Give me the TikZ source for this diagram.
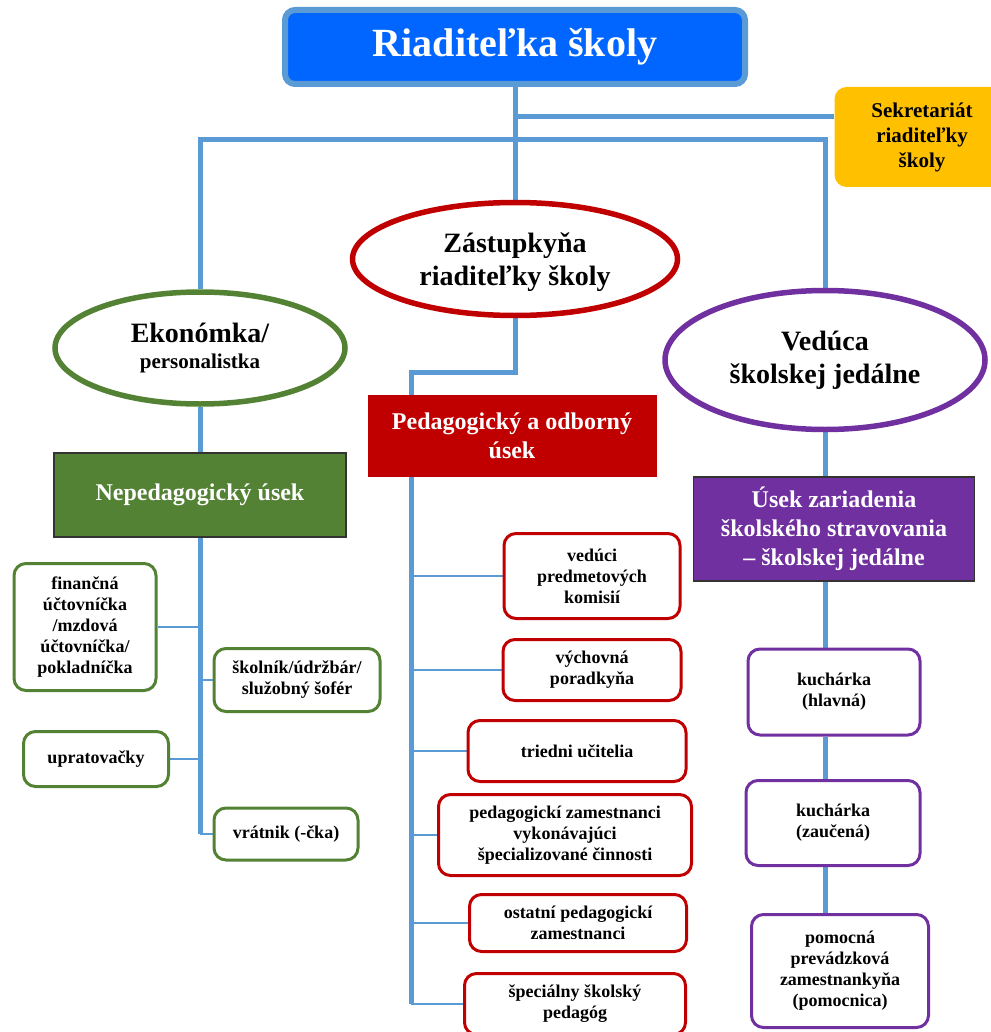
\documentclass[tikz,border=0pt]{standalone}
\usepackage{fontspec}
\setmainfont{Liberation Serif}
\usetikzlibrary{shapes.geometric,backgrounds}
\definecolor{linkblue}{HTML}{5B9BD5}
\definecolor{headblue}{HTML}{0066FF}
\definecolor{secgold}{HTML}{FFC000}
\definecolor{pedred}{HTML}{C00000}
\definecolor{ecogreen}{HTML}{548235}
\definecolor{canteen}{HTML}{7030A0}

\begin{document}
\begin{tikzpicture}[x=1pt, y=-1pt,
            oval/.style={ellipse, draw, line width=5.5pt, fill=white, inner sep=0pt, align=center, font=\bfseries\fontsize{28}{33}\selectfont},
            unit/.style={rectangle, draw=black!80, line width=1.2pt, text=white, align=center, font=\bfseries\fontsize{24}{29}\selectfont},
            job/.style={rectangle, rounded corners=12pt, draw, line width=3pt, fill=white, inner sep=2pt, align=center, font=\bfseries\fontsize{18}{21}\selectfont},
            link/.style={linkblue, line width=5pt},
            twig/.style={linkblue, line width=2pt}
        ]
            \useasboundingbox (0,0) rectangle (990,1032);

            % Riaditelka
            \node[rectangle, rounded corners=10pt, draw=linkblue, line width=6pt, fill=headblue, text=white, minimum width=460pt, minimum height=74pt, font=\bfseries\fontsize{40}{44}\selectfont] (head) at (515,47) {Riaditeľka školy};

            % Sekretariat
            \node[rectangle, rounded corners=12pt, fill=secgold, minimum width=175pt, minimum height=100pt, align=center, font=\bfseries\fontsize{21}{25}\selectfont] (secr) at (922,137) {Sekretariát\\riaditeľky\\školy};

            % Zastupkyna
            \node[oval, draw=pedred, minimum width=325pt, minimum height=113pt, text depth=-4pt] (deputy) at (515,259) {Zástupkyňa\\riaditeľky školy};

            % Ekonomka
            \node[oval, draw=ecogreen, minimum width=290pt, minimum height=112pt] (econ) at (200,348) {Ekonómka/\\[-7pt]{\fontsize{21}{25}\selectfont personalistka}};

            % Veduca jedalne
            \node[oval, draw=canteen, minimum width=320pt, minimum height=139pt] (chef) at (825,360) {Vedúca\\školskej jedálne};

            % Useky
            \node[unit, fill=ecogreen, minimum width=292pt, minimum height=84pt] (nonped) at (200,495) {Nepedagogický úsek};
            \node[unit, draw=none, fill=pedred, minimum width=289pt, minimum height=82pt] (ped) at (512,436) {Pedagogický a odborný\\úsek};
            \node[unit, fill=canteen, minimum width=281pt, minimum height=104pt] (dining) at (834,529) {Úsek zariadenia\\školského stravovania\\– školskej jedálne};

            % Nepedagogicki zamestnanci
            \node[job, draw=ecogreen, minimum width=142pt, minimum height=127pt] (fin) at (85,627) {finančná\\účtovníčka\\/mzdová\\účtovníčka/\\pokladníčka};
            \node[job, draw=ecogreen, minimum width=166pt, minimum height=63pt] (skol) at (297,680) {školník/údržbár/\\služobný šofér};
            \node[job, draw=ecogreen, minimum width=145pt, minimum height=55pt] (uprat) at (96,759) {upratovačky};
            \node[job, draw=ecogreen, minimum width=144pt, minimum height=52pt] (vrat) at (286,834) {vrátnik (-čka)};

            % Pedagogicki zamestnanci
            \node[job, draw=pedred, minimum width=176pt, minimum height=85pt] (vpk) at (592,576) {vedúci\\predmetových\\komisií};
            \node[job, draw=pedred, minimum width=178pt, minimum height=61pt] (vych) at (592,670) {výchovná\\poradkyňa};
            \node[job, draw=pedred, minimum width=218pt, minimum height=61pt] (tried) at (577,751) {triedni učitelia};
            \node[job, draw=pedred, minimum width=253pt, minimum height=81pt] (spec) at (565,835) {pedagogickí zamestnanci\\vykonávajúci\\špecializované činnosti};
            \node[job, draw=pedred, minimum width=217pt, minimum height=57pt] (ostat) at (578,923) {ostatní pedagogickí\\zamestnanci};
            \node[job, draw=pedred, minimum width=221pt, minimum height=61pt] (psych) at (575,1004) {špeciálny školský\\pedagóg};

            % Jedalen
            \node[job, draw=canteen, minimum width=172pt, minimum height=86pt] (cook) at (834,692) {kuchárka\\(hlavná)};
            \node[job, draw=canteen, minimum width=174pt, minimum height=85pt] (cook2) at (833,823) {kuchárka\\(zaučená)};
            \node[job, draw=canteen, minimum width=177pt, minimum height=113pt] (helper) at (840,971) {pomocná\\prevádzková\\zamestnankyňa\\(pomocnica)};

            % Connections
            \begin{scope}[on background layer]
            \coordinate (secj) at (515,117);
            \coordinate (bus) at (515,140);
            \coordinate (pedtop) at (411,372);
            \draw[link] (head.south) -- (deputy.north);
            \draw[link] (secj) -- (secj -| secr.west);
            \draw[link] (econ.north) |- (bus) -| (chef.north);

            \draw[link] (econ.south) -- (nonped.north);
            \draw[link] (nonped.south) -- (nonped.south |- vrat.west);
            \draw[twig] (nonped.south |- fin.east) -- (fin.east);
            \draw[twig] (nonped.south |- skol.west) -- (skol.west);
            \draw[twig] (nonped.south |- uprat.east) -- (uprat.east);
            \draw[twig] (nonped.south |- vrat.west) -- (vrat.west);

            \draw[link] (deputy.south) |- (pedtop) -- (pedtop |- psych.west);
            \draw[twig] (pedtop |- vpk.west) -- (vpk.west);
            \draw[twig] (pedtop |- vych.west) -- (vych.west);
            \draw[twig] (pedtop |- tried.west) -- (tried.west);
            \draw[twig] (pedtop |- spec.west) -- (spec.west);
            \draw[twig] (pedtop |- ostat.west) -- (ostat.west);
            \draw[twig] (pedtop |- psych.west) -- (psych.west);

            \draw[link] (chef.south) -- (chef.south |- dining.north);
            \draw[link] (chef.south |- dining.south) -- (chef.south |- cook.north);
            \draw[link] (chef.south |- cook.south) -- (chef.south |- cook2.north);
            \draw[link] (chef.south |- cook2.south) -- (chef.south |- helper.north);
            \end{scope}

        \end{tikzpicture}
\end{document}
